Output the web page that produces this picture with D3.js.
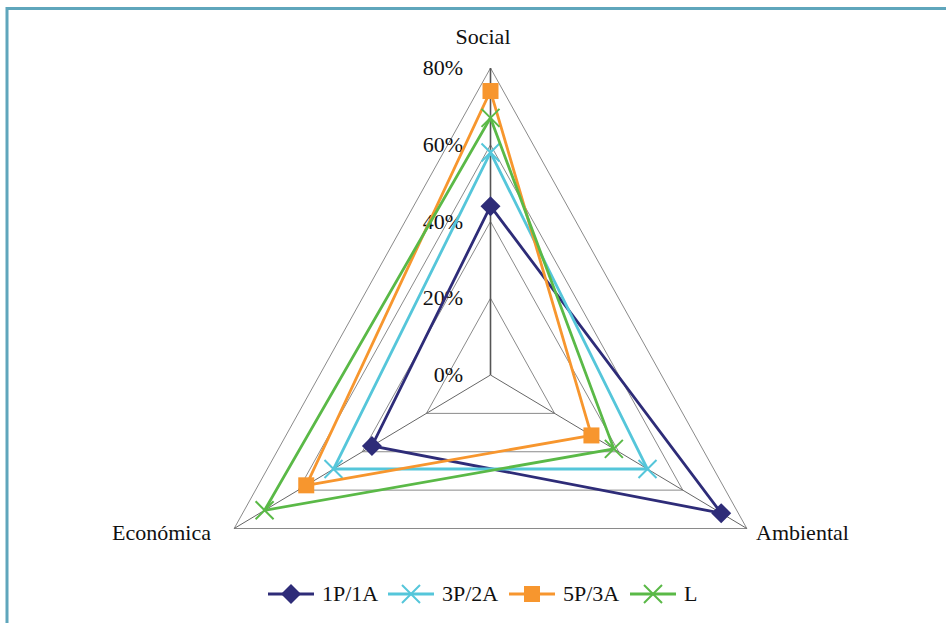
<!DOCTYPE html>
<html>
<head>
<meta charset="utf-8">
<script src="https://cdn.jsdelivr.net/npm/d3@7"></script>
<style>
  html, body { margin: 0; padding: 0; background: #fff; }
  svg { display: block; }
</style>
</head>
<body>
<svg id="chart" width="946" height="623"></svg>
<script>
// Dimensions of sustainability, clockwise from the top
const axes = ["Social", "Ambiental", "Económica"];
const seriesNames = ["1P/1A", "3P/2A", "5P/3A", "L"];
const seriesColors = ["#2E2C78", "#55C6DA", "#F7962E", "#5AB947"];
const seriesMarkers = ["diamond", "x", "square", "x"];
// Share per dimension [Social, Ambiental, Económica]
const v1P1A = [0.44, 0.72, 0.37];
const v3P2A = [0.58, 0.49, 0.49];
const v5P3A = [0.74, 0.315, 0.575];
const vL    = [0.67, 0.385, 0.705];
const ticks = [0, 0.2, 0.4, 0.6, 0.8];
const tickLabels = ["0%", "20%", "40%", "60%", "80%"];

const seriesValues = [v1P1A, v3P2A, v5P3A, vL];
const FONT = "'Liberation Serif', 'Times New Roman', 'DejaVu Serif', serif";

const svg = d3.select("#chart");
const cx = 490.5, cy = 375;
// radial scales (horizontal extent a little narrower than vertical)
const ry = d3.scaleLinear().domain([0, 0.8]).range([0, 307]);
const rx = d3.scaleLinear().domain([0, 0.8]).range([0, 296]);
const angles = [-90, 30, 150].map(a => a * Math.PI / 180);

function ptXY(i, v) {
  const a = angles[i];
  return [cx + Math.cos(a) * rx(v), cy + Math.sin(a) * ry(v)];
}

function label(x, y, txt, anchor) {
  return svg.append("text").attr("x", x).attr("y", y)
    .attr("text-anchor", anchor).attr("font-size", 22)
    .attr("font-family", FONT).attr("fill", "#111").text(txt);
}

// frame (top and left edges)
svg.append("line").attr("x1", 7).attr("x2", 946).attr("y1", 8.5).attr("y2", 8.5)
  .attr("stroke", "#5FA6BC").attr("stroke-width", 3);
svg.append("line").attr("x1", 7).attr("x2", 7).attr("y1", 7).attr("y2", 623)
  .attr("stroke", "#5FA6BC").attr("stroke-width", 3);

const line = d3.line();

// grid rings
ticks.filter(t => t > 0).forEach(t => {
  const pts = axes.map((_, i) => ptXY(i, t));
  svg.append("path").attr("d", line(pts) + "Z")
    .attr("fill", "none").attr("stroke", "#8a8a8a").attr("stroke-width", 1);
});

// spokes
axes.forEach((_, i) => {
  const p = ptXY(i, 0.8);
  svg.append("line").attr("x1", cx).attr("y1", cy).attr("x2", p[0]).attr("y2", p[1])
    .attr("stroke", i === 0 ? "#555" : "#666").attr("stroke-width", i === 0 ? 1.6 : 1);
});

// tick labels along the Social spoke
ticks.forEach((t, k) => label(463, cy - ry(t) + 7, tickLabels[k], "end"));

// axis titles
label(483, 44, axes[0], "middle");
label(756, 540, axes[1], "start");
label(211, 540, axes[2], "end");

function drawMarker(g, type, x, y, color) {
  if (type === "diamond") {
    const s = 10;
    g.append("path").attr("d", `M${x},${y - s}L${x + s},${y}L${x},${y + s}L${x - s},${y}Z`)
      .attr("fill", color);
  } else if (type === "square") {
    const s = 8;
    g.append("rect").attr("x", x - s).attr("y", y - s).attr("width", 2 * s).attr("height", 2 * s)
      .attr("fill", color);
  } else {
    const s = 9;
    g.append("path").attr("d", `M${x - s},${y - s}L${x + s},${y + s}M${x - s},${y + s}L${x + s},${y - s}`)
      .attr("stroke", color).attr("stroke-width", 2).attr("fill", "none");
  }
}

// series polygons and markers
seriesValues.forEach((vals, s) => {
  const g = svg.append("g");
  const pts = vals.map((v, i) => ptXY(i, v));
  g.append("path").attr("d", line(pts) + "Z")
    .attr("fill", "none").attr("stroke", seriesColors[s]).attr("stroke-width", 2.8)
    .attr("stroke-linejoin", "miter");
  pts.forEach(p => drawMarker(g, seriesMarkers[s], p[0], p[1], seriesColors[s]));
});

// legend
const legendX = [268, 388, 509, 630];
const ly = 594;
seriesNames.forEach((name, s) => {
  const g = svg.append("g");
  const x0 = legendX[s];
  g.append("line").attr("x1", x0).attr("x2", x0 + 46).attr("y1", ly).attr("y2", ly)
    .attr("stroke", seriesColors[s]).attr("stroke-width", 2.8);
  drawMarker(g, seriesMarkers[s], x0 + 23, ly, seriesColors[s]);
  label(x0 + 54, ly + 7, name, "start");
});
</script>
</body>
</html>
